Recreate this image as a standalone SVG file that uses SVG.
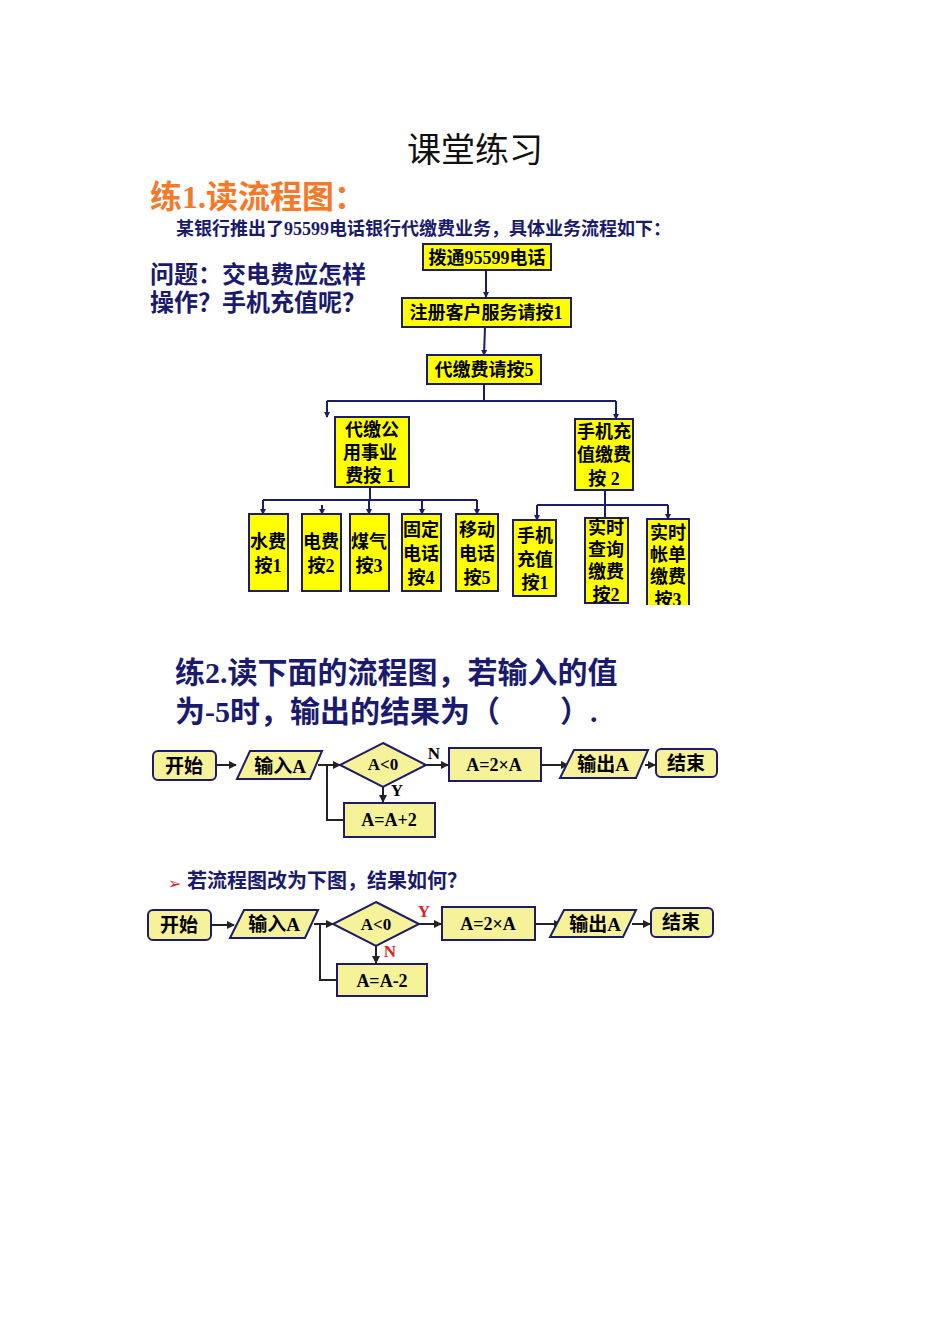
<svg xmlns="http://www.w3.org/2000/svg" width="950" height="1344" viewBox="0 0 950 1344">
<style>
.b{fill:#ffff00;stroke:#1c1c6a;stroke-width:2}
.p{fill:#f6f29a;stroke:#1c1c6a;stroke-width:2}
.t{font-family:"Liberation Serif","Noto Sans CJK SC",serif;font-weight:bold;fill:#000;text-anchor:middle}
.n{font-family:"Liberation Serif","Noto Sans CJK SC",serif;font-weight:bold;fill:#1a1a6e}
.c{fill:none;stroke:#1c1c6a;stroke-width:2}
.k{fill:none;stroke:#222;stroke-width:2}
</style>
<defs>
<marker id="a" markerWidth="8" markerHeight="8" refX="7" refY="4" orient="auto" markerUnits="userSpaceOnUse"><path d="M0,0 L8,4 L0,8 z" fill="#222"/></marker>
<marker id="a2" markerWidth="6" markerHeight="6" refX="5" refY="3" orient="auto" markerUnits="userSpaceOnUse"><path d="M0,0 L6,3 L0,6 z" fill="#1c1c6a"/></marker>
</defs>
<rect width="950" height="1344" fill="#fff"/>
<text x="475" y="162" font-family="'Noto Sans CJK SC',serif" font-size="34" text-anchor="middle" fill="#111">课堂练习</text>
<text x="150" y="208" font-family="'Liberation Serif','Noto Sans CJK SC',serif" font-weight="bold" font-size="32" fill="#f47a2a">练1.读流程图：</text>
<text x="176" y="235" class="n" font-size="18">某银行推出了95599电话银行代缴费业务，具体业务流程如下：</text>
<text x="150" y="283" class="n" font-size="24">问题：交电费应怎样</text>
<text x="150" y="311" class="n" font-size="24">操作？手机充值呢？</text>
<g id="connectors1">
<path class="c" d="M486,270 V297" marker-end="url(#a2)"/>
<path class="c" d="M485,327 L484,355" marker-end="url(#a2)"/>
<path class="c" d="M484,384 V401 M327,401 H616"/>
<path class="c" d="M327,401 V417" marker-end="url(#a2)"/>
<path class="c" d="M616,401 V419" marker-end="url(#a2)"/>
<path class="c" d="M370,487 V500 M263,500 H477"/>
<path class="c" d="M263,500 V514" marker-end="url(#a2)"/>
<path class="c" d="M322,505 V514" marker-end="url(#a2)"/>
<path class="c" d="M369,500 V514" marker-end="url(#a2)"/>
<path class="c" d="M422,500 V514" marker-end="url(#a2)"/>
<path class="c" d="M477,500 V514" marker-end="url(#a2)"/>
<path class="c" d="M605,490 V518 M537,505 H668"/>
<path class="c" d="M537,505 V520" marker-end="url(#a2)"/>
<path class="c" d="M668,505 V519" marker-end="url(#a2)"/>
</g>
<g id="n1"><rect class="b" x="423" y="244" width="128" height="26"/><text class="t" x="487" y="264" font-size="18">拨通95599电话</text></g>
<g id="n2"><rect class="b" x="402" y="298" width="169" height="29"/><text class="t" x="486" y="319" font-size="18">注册客户服务请按1</text></g>
<g id="n3"><rect class="b" x="427" y="355" width="114" height="29"/><text class="t" x="484" y="376" font-size="18">代缴费请按5</text></g>
<g id="n4"><rect class="b" x="335" y="417" width="74" height="70"/><text class="t" x="372" y="436" font-size="18">代缴公</text><text class="t" x="370" y="459" font-size="18">用事业</text><text class="t" x="370" y="482" font-size="18">费按 1</text></g>
<g id="n5"><rect class="b" x="575" y="419" width="58" height="71"/><text class="t" x="604" y="438" font-size="18">手机充</text><text class="t" x="604" y="461" font-size="18">值缴费</text><text class="t" x="604" y="485" font-size="18">按 2</text></g>
<g id="l1"><rect class="b" x="249" y="514" width="39" height="77"/><text class="t" x="268" y="548" font-size="18">水费</text><text class="t" x="268" y="572" font-size="18">按1</text></g>
<g id="l2"><rect class="b" x="302" y="514" width="39" height="77"/><text class="t" x="321" y="548" font-size="18">电费</text><text class="t" x="321" y="572" font-size="18">按2</text></g>
<g id="l3"><rect class="b" x="350" y="514" width="39" height="77"/><text class="t" x="369" y="548" font-size="18">煤气</text><text class="t" x="369" y="572" font-size="18">按3</text></g>
<g id="l4"><rect class="b" x="402" y="514" width="39" height="77"/><text class="t" x="421" y="536" font-size="18">固定</text><text class="t" x="421" y="560" font-size="18">电话</text><text class="t" x="421" y="584" font-size="18">按4</text></g>
<g id="l5"><rect class="b" x="456" y="514" width="42" height="77"/><text class="t" x="477" y="536" font-size="18">移动</text><text class="t" x="477" y="560" font-size="18">电话</text><text class="t" x="477" y="584" font-size="18">按5</text></g>
<g id="l6"><rect class="b" x="513" y="520" width="43" height="76"/><text class="t" x="535" y="542" font-size="18">手机</text><text class="t" x="535" y="566" font-size="18">充值</text><text class="t" x="535" y="589" font-size="18">按1</text></g>
<g id="l7"><rect class="b" x="585" y="518" width="43" height="85"/><text class="t" x="606" y="534" font-size="18">实时</text><text class="t" x="606" y="556" font-size="18">查询</text><text class="t" x="606" y="578" font-size="18">缴费</text><text class="t" x="606" y="601" font-size="18">按2</text></g>
<g id="l8"><rect class="b" x="647" y="519" width="42" height="90"/><text class="t" x="668" y="539" font-size="18">实时</text><text class="t" x="668" y="561" font-size="18">帐单</text><text class="t" x="668" y="583" font-size="18">缴费</text><text class="t" x="668" y="606" font-size="18">按3</text></g>
<rect x="600" y="605" width="120" height="10" fill="#fff"/>
<text x="175" y="683" class="n" font-size="30">练2.读下面的流程图，若输入的值</text>
<text x="175" y="722" class="n" font-size="30">为-5时，输出的结果为（　　）.</text>
<g id="connectors2" class="k">
<path d="M216,765 H236" marker-end="url(#a)"/>
<path d="M318,765 H340" marker-end="url(#a)"/>
<path d="M426,765 H448" marker-end="url(#a)"/>
<path d="M541,765 H568" marker-end="url(#a)"/>
<path d="M645,765 H655" marker-end="url(#a)"/>
<path d="M383,787 V802" marker-end="url(#a)"/>
<path d="M344,820 H327 V765"/>
<path d="M211,925 H234" marker-end="url(#a)"/>
<path d="M314,924 H333" marker-end="url(#a)"/>
<path d="M419,924 H441" marker-end="url(#a)"/>
<path d="M535,924 H561" marker-end="url(#a)"/>
<path d="M632,924 H650" marker-end="url(#a)"/>
<path d="M376,945 V963" marker-end="url(#a)"/>
<path d="M337,980 H320 V924"/>
</g>
<g id="f1">
<rect class="p" x="153" y="751" width="63" height="29" rx="5"/><text class="t" x="184" y="773" font-size="19">开始</text>
<path class="p" d="M250,751 H322 L310,779 H237 Z"/><text class="t" x="280" y="773" font-size="19">输入A</text>
<path class="p" d="M383,743 L426,765 L383,787 L340,765 Z"/><text class="t" x="383" y="770" font-size="17">A&lt;0</text>
<text class="t" x="434" y="759" font-size="17">N</text><text class="t" x="397" y="796" font-size="17">Y</text>
<rect class="p" x="449" y="748" width="92" height="33"/><text class="t" x="494" y="771" font-size="18">A=2×A</text>
<path class="p" d="M574,750 H648 L636,778 H560 Z"/><text class="t" x="603" y="771" font-size="19">输出A</text>
<rect class="p" x="656" y="749" width="61" height="28" rx="5"/><text class="t" x="686" y="770" font-size="19">结束</text>
<rect class="p" x="344" y="803" width="91" height="34"/><text class="t" x="389" y="826" font-size="18" font-weight="normal">A=A+2</text>
</g>
<text x="168" y="889" font-family="'Liberation Sans',sans-serif" font-size="16" fill="#e02020">➢</text>
<text x="187" y="888" class="n" font-size="20">若流程图改为下图，结果如何？</text>
<g id="f2">
<rect class="p" x="148" y="910" width="63" height="30" rx="5"/><text class="t" x="179" y="932" font-size="19">开始</text>
<path class="p" d="M244,910 H318 L305,938 H230 Z"/><text class="t" x="274" y="931" font-size="19">输入A</text>
<path class="p" d="M376,902 L419,924 L376,946 L333,924 Z"/><text class="t" x="376" y="930" font-size="17">A&lt;0</text>
<text x="424" y="917" class="t" font-size="17" fill="#e02020" style="fill:#e02020">Y</text>
<text x="390" y="957" class="t" font-size="17" style="fill:#e02020">N</text>
<rect class="p" x="442" y="907" width="93" height="33"/><text class="t" x="488" y="930" font-size="18">A=2×A</text>
<path class="p" d="M564,910 H636 L623,937 H550 Z"/><text class="t" x="595" y="931" font-size="19">输出A</text>
<rect class="p" x="651" y="908" width="62" height="29" rx="5"/><text class="t" x="681" y="929" font-size="19">结束</text>
<rect class="p" x="337" y="964" width="90" height="32"/><text class="t" x="382" y="987" font-size="18" font-weight="normal">A=A-2</text>
</g>
</svg>
